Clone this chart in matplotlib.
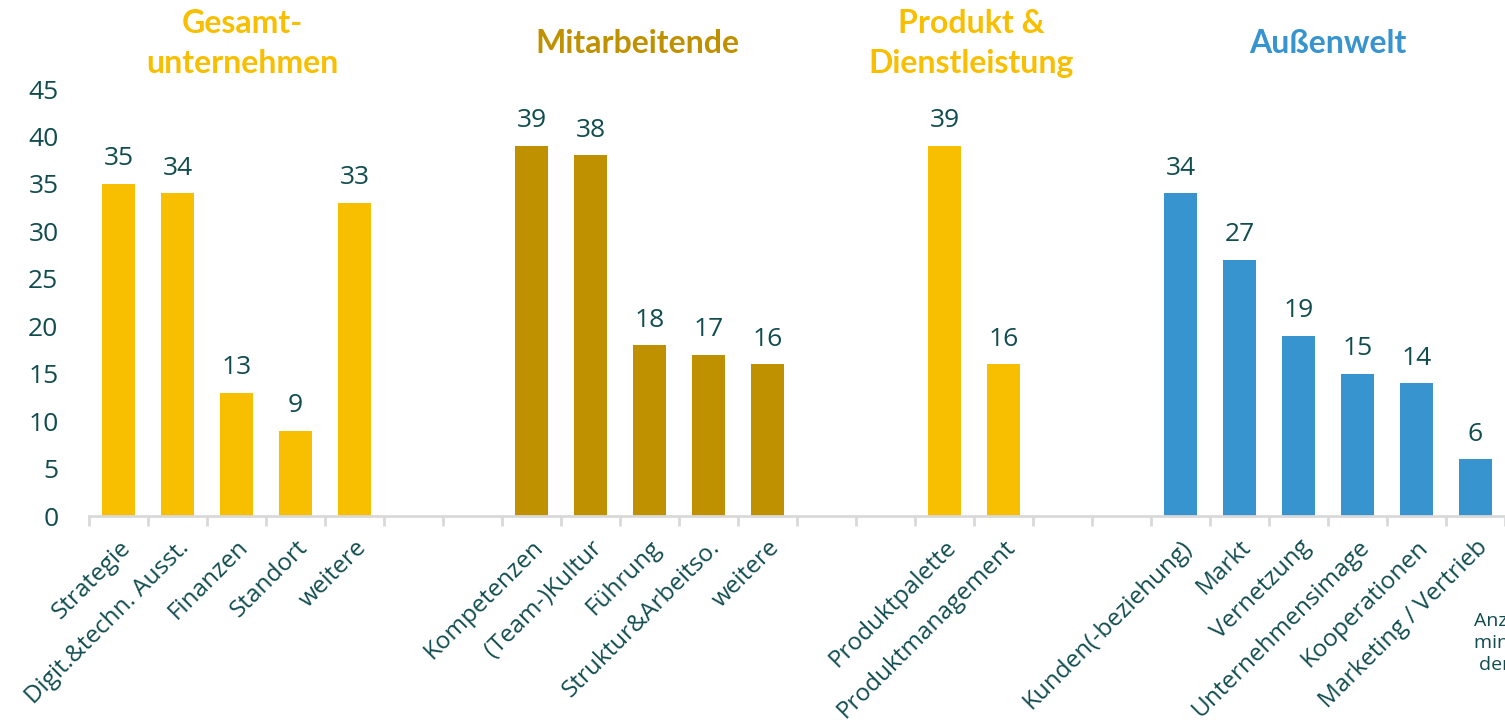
import matplotlib.pyplot as plt

# Daten
kategorien = ['Strategie', 'Digit.&techn. Ausst.', 'Finanzen', 'Standort', 'weitere',
              '', '',
              'Kompetenzen', '(Team-)Kultur', 'Führung', 'Struktur&Arbeitso.', 'weitere',
              '', '',
              'Produktpalette', 'Produktmanagement',
              '', '',
              'Kunden(-beziehung)', 'Markt', 'Vernetzung', 'Unternehmensimage',
              'Kooperationen', 'Marketing / Vertrieb']
werte = [35, 34, 13, 9, 33,
         None, None,
         39, 38, 18, 17, 16,
         None, None,
         39, 16,
         None, None,
         34, 27, 19, 15, 14, 6]
gruppe = [0, 0, 0, 0, 0, -1, -1, 1, 1, 1, 1, 1, -1, -1, 2, 2, -1, -1, 3, 3, 3, 3, 3, 3]
gruppen_titel = ['Gesamt-\nunternehmen', 'Mitarbeitende', 'Produkt &\nDienstleistung', 'Außenwelt']
farben = ['#F8BF00', '#BF9000', '#F8BF00', '#3794CE']
y_ticks = [0, 5, 10, 15, 20, 25, 30, 35, 40, 45]
hinweis = 'Anzahl Nennungen\nmindestens einmal\nder Unternehmen'

text_farbe = '#114C4F'
plt.rcParams['font.family'] = ['Open Sans', 'DejaVu Sans']

fig = plt.figure(figsize=(15.05, 7.22), dpi=100)
ax = fig.add_axes([89 / 1505, 0.2853, 1 - 89 / 1505, 0.8767 - 0.2853])

for i, (v, g) in enumerate(zip(werte, gruppe)):
    if v is None:
        continue
    ax.bar(i, v, width=0.56, color=farben[g])
    ax.annotate(str(v), (i, v), xytext=(0, 9), textcoords='offset points',
                ha='center', va='bottom', fontsize=19, color=text_farbe)

ax.set_xlim(-0.5, len(kategorien) - 0.5)
ax.set_ylim(0, 45)
ax.set_yticks(y_ticks)
ax.tick_params(axis='y', length=0, labelsize=19, labelcolor=text_farbe, pad=22)

# Striche an den Grenzen, Beschriftung in der Mitte
ax.set_xticks([i - 0.5 for i in range(len(kategorien) + 1)])
ax.set_xticklabels([])
ax.set_xticks(range(len(kategorien)), minor=True)
ax.set_xticklabels(kategorien, minor=True, rotation=45, ha='right',
                   rotation_mode='anchor', fontsize=17.5, color=text_farbe)
ax.tick_params(axis='x', which='major', length=7, width=2, color='#D9D9D9')
ax.tick_params(axis='x', which='minor', length=0, pad=14)

for s in ['top', 'right', 'left']:
    ax.spines[s].set_visible(False)
ax.spines['bottom'].set_color('#D9D9D9')
ax.spines['bottom'].set_linewidth(2)

# Gruppentitel (leicht verschoben wie im Original)
versatz = [0.1, -0.2, -0.05, 0.0]
for g, titel in enumerate(gruppen_titel):
    pos = [i for i, gg in enumerate(gruppe) if gg == g]
    mitte = (pos[0] + pos[-1]) / 2 + versatz[g]
    ax.text(mitte, 1.107, titel, transform=ax.get_xaxis_transform(),
            ha='center', va='center', fontsize=23, fontweight='bold',
            color=farben[g], family=['Lato', 'DejaVu Sans'], linespacing=1.45)

fig.text(1561 / 1505, 1 - 612 / 722, hinweis, ha='center', va='top',
         fontsize=14, color=text_farbe, linespacing=1.3)

fig.savefig('out.png', dpi=100)
